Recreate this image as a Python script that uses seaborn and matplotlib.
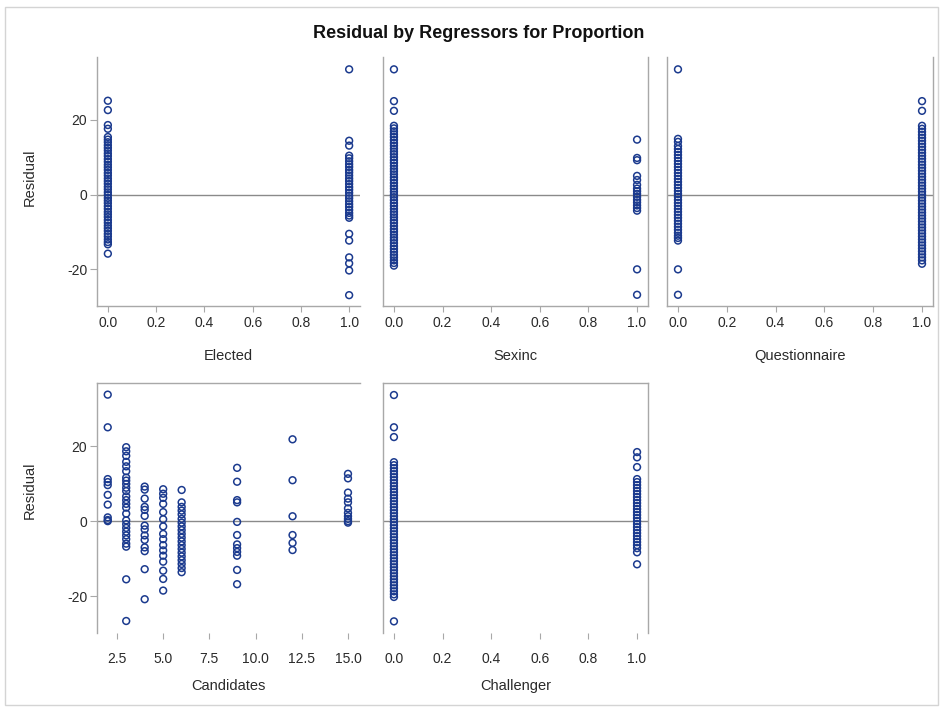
import matplotlib
matplotlib.use('Agg')
import matplotlib.pyplot as plt
import seaborn as sns
import pandas as pd
from matplotlib.patches import Rectangle

# ---------------- data (residuals) ----------------
title = "Residual by Regressors for Proportion"

elected_0 = [25.1, 22.6, 18.6, 17.6, 15.4, 14.7, 14.0, 13.2, 12.5, 11.8, 11.0, 10.3, 9.5, 8.8, 8.0,
             7.3, 6.6, 5.8, 5.1, 4.3, 3.6, 2.9, 2.1, 1.4, 0.6, -0.1, -0.9, -1.6, -2.3, -3.1, -3.8,
             -4.6, -5.3, -6.0, -6.8, -7.5, -8.3, -9.0, -9.7, -10.5, -11.2, -12.0, -12.7, -13.3, -15.8]
elected_1 = [33.5, 14.4, 13.1, 10.4, 9.7, 8.9, 8.1, 7.4, 6.6, 5.9, 5.1, 4.3, 3.6, 2.8, 2.0, 1.3, 0.5,
             -0.3, -1.0, -1.8, -2.6, -3.3, -4.1, -4.9, -5.6, -6.2, -10.5, -12.3, -16.8, -18.4, -20.3, -26.9]

sexinc_0 = [33.5, 25.0, 22.4, 18.4, 17.7, 16.9, 16.1, 15.4, 14.6, 13.8, 13.1, 12.3, 11.5, 10.8, 10.0,
            9.2, 8.5, 7.7, 6.9, 6.2, 5.4, 4.6, 3.9, 3.1, 2.3, 1.6, 0.8, 0.0, -0.7, -1.5, -2.3, -3.0,
            -3.8, -4.6, -5.3, -6.1, -6.9, -7.6, -8.4, -9.2, -9.9, -10.7, -11.5, -12.2, -13.0, -13.8,
            -14.5, -15.3, -16.1, -16.8, -17.6, -18.3, -19.0]
sexinc_1 = [14.7, 9.8, 9.2, 5.0, 3.9, 2.6, 1.6, 0.9, 0.2, -0.6, -1.4, -2.1, -2.9, -3.6, -4.3, -20.0, -26.8]

quest_0 = [33.5, 14.9, 14.1, 13.0, 12.2, 11.4, 10.6, 9.8, 9.0, 8.2, 7.4, 6.6, 5.8, 5.0, 4.2, 3.4, 2.6,
           1.8, 1.0, 0.2, -0.6, -1.4, -2.2, -3.0, -3.8, -4.6, -5.4, -6.2, -7.0, -7.8, -8.6, -9.4,
           -10.2, -11.0, -11.6, -12.3, -20.0, -26.8]
quest_1 = [25.0, 22.4, 18.4, 17.6, 16.8, 16.0, 15.2, 14.4, 13.6, 12.8, 12.0, 11.2, 10.4, 9.6, 8.8, 8.0,
           7.2, 6.4, 5.6, 4.8, 4.0, 3.2, 2.4, 1.6, 0.8, 0.0, -0.8, -1.6, -2.4, -3.2, -4.0, -4.8, -5.6,
           -6.4, -7.2, -8.0, -8.8, -9.6, -10.4, -11.2, -12.0, -12.8, -13.6, -14.4, -15.2, -16.0,
           -16.8, -17.6, -18.5]

cand_2 = [33.7, 25.0, 11.2, 10.4, 9.6, 7.0, 4.4, 1.0, 0.3, 0.0]
cand_3 = [19.7, 18.6, 17.4, 15.8, 14.6, 13.3, 11.6, 10.8, 9.9, 8.9, 8.0, 6.6, 5.6, 4.6, 3.6, 2.0, 0.2,
          -0.8, -1.8, -2.8, -3.8, -4.8, -6.0, -6.8, -15.5, -26.6]
cand_4 = [9.2, 8.4, 6.0, 3.8, 3.0, 1.4, -1.2, -2.2, -3.8, -5.0, -7.0, -8.0, -12.8, -20.8]
cand_5 = [8.5, 7.3, 6.2, 4.6, 2.4, 0.5, -1.4, -3.4, -4.8, -6.4, -7.8, -9.2, -10.8, -13.2, -15.4, -18.5]
cand_6 = [8.3, 5.0, 3.8, 2.8, 1.8, 0.6, -0.4, -1.4, -2.4, -3.4, -4.4, -5.4, -6.4, -7.4, -8.4, -9.4,
          -10.4, -11.4, -12.5, -13.6]
cand_9 = [14.2, 10.5, 5.6, 5.0, -0.2, -3.7, -6.2, -7.2, -8.2, -9.2, -13.0, -16.8]
cand_12 = [21.8, 10.9, 1.3, -3.7, -5.8, -7.7]
cand_15 = [12.6, 11.4, 7.6, 6.0, 5.0, 3.4, 2.2, 1.3, 0.6, 0.0, -0.4]

chall_0 = [33.6, 25.0, 22.4, 15.7, 14.9, 14.1, 13.3, 12.5, 11.7, 10.9, 10.1, 9.3, 8.5, 7.7, 6.9, 6.1,
           5.3, 4.5, 3.7, 2.9, 2.1, 1.3, 0.5, -0.3, -1.1, -1.9, -2.7, -3.5, -4.3, -5.1, -5.9, -6.7,
           -7.5, -8.3, -9.1, -9.9, -10.7, -11.5, -12.3, -13.1, -13.9, -14.7, -15.5, -16.3, -17.1,
           -17.9, -18.7, -19.5, -20.2, -26.7]
chall_1 = [18.4, 17.0, 14.4, 11.2, 10.4, 9.6, 8.8, 8.0, 7.2, 6.4, 5.6, 4.8, 4.0, 3.2, 2.4, 1.6, 0.8,
           0.0, -0.8, -1.6, -2.4, -3.2, -4.0, -4.8, -5.6, -6.4, -7.2, -8.3, -11.5]

panel_names = ["Elected", "Sexinc", "Questionnaire", "Candidates", "Challenger"]
panel_groups = {
    "Elected": {0: elected_0, 1: elected_1},
    "Sexinc": {0: sexinc_0, 1: sexinc_1},
    "Questionnaire": {0: quest_0, 1: quest_1},
    "Candidates": {2: cand_2, 3: cand_3, 4: cand_4, 5: cand_5, 6: cand_6,
                   9: cand_9, 12: cand_12, 15: cand_15},
    "Challenger": {0: chall_0, 1: chall_1},
}
binary_ticks = [0.0, 0.2, 0.4, 0.6, 0.8, 1.0]
cand_ticks = [2.5, 5.0, 7.5, 10.0, 12.5, 15.0]
y_ticks = [-20, 0, 20]

# ---------------- styling ----------------
sns.set_theme(style="white")
plt.rcParams['font.family'] = ['Liberation Sans', 'DejaVu Sans']

marker_color = "#1b3a8e"
spine_color = "#a8a8a8"
ref_color = "#8a8a8a"
text_color = "#2a2a2a"

W, H = 944, 713
fig = plt.figure(figsize=(W / 100, H / 100), dpi=100)
fig.patch.set_facecolor("white")


def add_ax(x0, x1, y0, y1):
    return fig.add_axes([x0 / W, 1 - y1 / H, (x1 - x0) / W, (y1 - y0) / H])


cols = [(97, 360), (383, 648), (667, 933)]
rows = [(57, 306), (383, 633)]

layout = [
    ("Elected", 0, 0), ("Sexinc", 0, 1), ("Questionnaire", 0, 2),
    ("Candidates", 1, 0), ("Challenger", 1, 1),
]

for name, r, c in layout:
    x0, x1 = cols[c]
    y0, y1 = rows[r]
    ax = add_ax(x0, x1, y0, y1)
    recs = []
    for xv, res in panel_groups[name].items():
        for v in res:
            recs.append({"x": xv, "Residual": v})
    df = pd.DataFrame(recs)
    ax.axhline(0, color=ref_color, lw=1.0, zorder=1)
    sns.scatterplot(data=df, x="x", y="Residual", ax=ax, marker="o", s=24,
                    color=marker_color, linewidth=1.1, zorder=3, legend=False)
    for coll in ax.collections:
        coll.set_facecolor("none")
        coll.set_edgecolor(marker_color)
        coll.set_linewidth(1.1)

    ax.set_ylim(-29.8, 36.8)
    if name == "Candidates":
        ax.set_xlim(1.42, 15.65)
        ax.set_xticks(cand_ticks)
        ax.set_xticklabels([f"{t:.1f}" for t in cand_ticks])
    else:
        ax.set_xlim(-0.045, 1.045)
        ax.set_xticks(binary_ticks)
        ax.set_xticklabels([f"{t:.1f}" for t in binary_ticks])

    ax.set_facecolor("white")
    for s in ax.spines.values():
        s.set_color(spine_color)
        s.set_linewidth(1.0)
    if r == 0:
        ax.spines["top"].set_visible(False)
        ax.spines["right"].set_visible(c != 0)
    else:
        ax.spines["bottom"].set_visible(False)
        ax.spines["right"].set_visible(c != 0)

    pad = 3 if r == 0 else 10
    ax.tick_params(axis="x", bottom=True, length=4, width=0.8, color=spine_color,
                   labelsize=10, labelcolor=text_color, pad=pad)
    if c == 0:
        ax.set_yticks(y_ticks)
        ax.set_yticklabels([str(t) for t in y_ticks])
        ax.tick_params(axis="y", left=True, length=5, width=0.8, color=spine_color,
                       labelsize=10, labelcolor=text_color, pad=2)
        ax.set_ylabel("Residual", fontsize=10.5, color=text_color)
        ax.yaxis.set_label_coords(-0.228, 0.518 if r == 0 else 0.572)
    else:
        ax.set_yticks(y_ticks)
        ax.tick_params(axis="y", left=False, labelleft=False)
        ax.set_ylabel("")

    ax.set_xlabel(name, fontsize=10.5, color=text_color)
    ax.xaxis.set_label_coords(0.5, -0.173 if r == 0 else -0.184)
    ax.grid(False)

fig.text(0.507, 1 - 33 / H, title, ha="center", va="center",
         fontsize=13, fontweight="bold", color="#111111")

frame = Rectangle((5 / W, 1 - 705 / H), (938 - 5) / W, (705 - 7) / H,
                  transform=fig.transFigure, fill=False, edgecolor="#d4d4d4", lw=1.0)
fig.add_artist(frame)

fig.savefig("out.png", dpi=100)
